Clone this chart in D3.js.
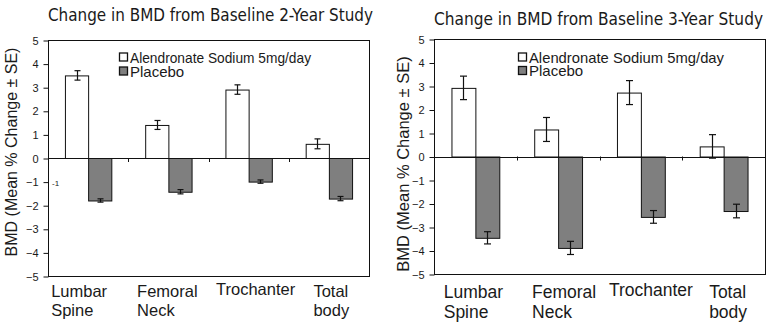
<!DOCTYPE html>
<html>
<head>
<meta charset="utf-8">
<script src="https://cdn.jsdelivr.net/npm/d3@7"></script>
<style>
  html, body { margin: 0; padding: 0; background: #fff; }
  svg { display: block; }
  text { fill: #1a1a1a; font-family: "Liberation Sans", Arial, sans-serif; }
  .title { font-family: "Liberation Sans Narrow", "DejaVu Sans Condensed", "Liberation Sans", sans-serif; }
</style>
</head>
<body>
<div id="chart"></div>
<script>
const kWidth = 771;
const kHeight = 329;

// categories and series
const categories = ["Lumbar Spine", "Femoral Neck", "Trochanter", "Total body"];
const categoryLines = [["Lumbar", "Spine"], ["Femoral", "Neck"], ["Trochanter"], ["Total", "body"]];
const seriesNames = ["Alendronate Sodium 5mg/day", "Placebo"];
const yTicks = [5, 4, 3, 2, 1, 0, -1, -2, -3, -4, -5];

// 2-year study: mean % change and SE
const alend2 = [3.5, 1.4, 2.9, 0.6];
const alend2Se = [0.2, 0.19, 0.2, 0.21];
const placebo2 = [-1.8, -1.43, -1.0, -1.72];
const placebo2Se = [0.07, 0.09, 0.07, 0.09];

// 3-year study
const alend3 = [2.92, 1.15, 2.72, 0.43];
const alend3Se = [0.5, 0.51, 0.51, 0.5];
const placebo3 = [-3.46, -3.89, -2.57, -2.32];
const placebo3Se = [0.26, 0.28, 0.27, 0.29];

const panels = [
  {
    title: "Change in BMD from Baseline 2-Year Study",
    titleX: 48, titleY: 20.5, titleW: 325,
    x0: 48, x1: 369, y0: 40, y1: 276,
    series: [alend2, placebo2], se: [alend2Se, placebo2Se],
    font: 16.5, yLabelX: 17, yLabelY: 152, yLabelSize: 16,
    legendX: 119, legendY: [62.5, 76.5], legendW: 192,
    catY: 296.5, catDx: [-9, -1, 7, 2],
    capW: 6, stray: true
  },
  {
    title: "Change in BMD from Baseline 3-Year Study",
    titleX: 434, titleY: 25, titleW: 329,
    x0: 434, x1: 765, y0: 39, y1: 274,
    series: [alend3, placebo3], se: [alend3Se, placebo3Se],
    font: 17.5, yLabelX: 409, yLabelY: 164, yLabelSize: 16.5,
    legendX: 518, legendY: [62.5, 76], legendW: 206,
    catY: 298, catDx: [-2, 6, 10, 4],
    capW: 7, stray: false
  }
];

const fills = ["#ffffff", "#7f7f7f"];

const svg = d3.select("#chart")
  .append("svg")
  .attr("width", kWidth)
  .attr("height", kHeight);

function drawPanel(p)
{
  const g = svg.append("g");

  const x = d3.scaleBand()
    .domain(categories)
    .range([p.x0, p.x1]);

  const xInner = d3.scaleBand()
    .domain(seriesNames)
    .range([0, x.bandwidth()])
    .paddingInner(0)
    .paddingOuter(0.73);

  const y = d3.scaleLinear()
    .domain([-5, 5])
    .range([p.y1, p.y0]);

  // title
  g.append("text")
    .attr("class", "title")
    .attr("x", p.titleX)
    .attr("y", p.titleY)
    .attr("textLength", p.titleW)
    .attr("lengthAdjust", "spacingAndGlyphs")
    .style("font-size", "17px")
    .text(p.title);

  // plot frame
  g.append("rect")
    .attr("x", p.x0 + 0.5)
    .attr("y", y(5) + 0.5)
    .attr("width", p.x1 - p.x0)
    .attr("height", y(-5) - y(5))
    .attr("fill", "none")
    .attr("stroke", "#111")
    .attr("stroke-width", 1);

  // y axis
  const yAxis = d3.axisLeft(y)
    .tickValues(yTicks)
    .tickSize(5)
    .tickSizeOuter(0)
    .tickPadding(5)
    .tickFormat(d3.format("d"));

  const ya = g.append("g")
    .attr("transform", `translate(${p.x0 + 0.5}, 0.5)`)
    .call(yAxis);
  ya.select(".domain").remove();
  ya.selectAll("line").attr("stroke", "#111");
  ya.selectAll("text")
    .style("font-family", "'Liberation Sans', Arial, sans-serif")
    .style("font-size", "11px")
    .attr("fill", "#1a1a1a");

  // y axis title
  g.append("text")
    .attr("transform", `translate(${p.yLabelX}, ${p.yLabelY}) rotate(-90)`)
    .attr("text-anchor", "middle")
    .style("font-size", `${p.yLabelSize}px`)
    .text("BMD (Mean % Change \u00b1 SE)");

  // bars
  seriesNames.forEach((s, si) => {
    g.selectAll(null)
      .data(categories)
      .enter()
      .append("rect")
      .attr("x", c => x(c) + xInner(s) + 0.5)
      .attr("y", (c, i) => Math.min(y(p.series[si][i]), y(0)) + 0.5)
      .attr("width", xInner.bandwidth())
      .attr("height", (c, i) => Math.abs(y(p.series[si][i]) - y(0)))
      .attr("fill", fills[si])
      .attr("stroke", "#111")
      .attr("stroke-width", 1);
  });

  // zero line
  g.append("line")
    .attr("x1", p.x0)
    .attr("x2", p.x1)
    .attr("y1", Math.round(y(0)) + 0.5)
    .attr("y2", Math.round(y(0)) + 0.5)
    .attr("stroke", "#111");

  // category ticks on the zero line
  g.selectAll(null)
    .data(categories.slice(1))
    .enter()
    .append("line")
    .attr("x1", c => Math.round(x(c)) + 0.5)
    .attr("x2", c => Math.round(x(c)) + 0.5)
    .attr("y1", y(0))
    .attr("y2", y(0) + 4)
    .attr("stroke", "#111");

  // error bars
  seriesNames.forEach((s, si) => {
    categories.forEach((c, i) => {
      const cx = Math.round(x(c) + xInner(s) + xInner.bandwidth() / 2) + 0.5;
      const v = p.series[si][i];
      const e = p.se[si][i];
      const eg = g.append("g").attr("stroke", "#111").attr("stroke-width", 1.2);
      eg.append("line")
        .attr("x1", cx).attr("x2", cx)
        .attr("y1", y(v + e)).attr("y2", y(v - e));
      [v + e, v - e].forEach(t => {
        eg.append("line")
          .attr("x1", cx - p.capW / 2).attr("x2", cx + p.capW / 2)
          .attr("y1", y(t)).attr("y2", y(t));
      });
    });
  });

  // category labels
  categories.forEach((c, i) => {
    const cx = x(c) + x.bandwidth() / 2 + p.catDx[i];
    const t = g.append("text")
      .attr("x", cx)
      .attr("y", p.catY - (categoryLines[i].length === 1 ? 2 : 0))
      .attr("text-anchor", "middle")
      .style("font-size", `${p.font}px`)
      .text(categoryLines[i][0]);
    // wrapped lines share the left edge of the first line
    if (categoryLines[i].length > 1) {
      const w = t.node().getComputedTextLength();
      t.attr("text-anchor", "start").attr("x", cx - w / 2);
      g.append("text")
        .attr("x", cx - w / 2)
        .attr("y", p.catY + 19.5)
        .style("font-size", `${p.font}px`)
        .text(categoryLines[i][1]);
    }
  });

  // legend
  seriesNames.forEach((s, si) => {
    g.append("rect")
      .attr("x", p.legendX + 0.5)
      .attr("y", p.legendY[si] - 9.5)
      .attr("width", 8)
      .attr("height", 8)
      .attr("fill", fills[si])
      .attr("stroke", "#111")
      .attr("stroke-width", 1.3);
    const lt = g.append("text")
      .attr("x", p.legendX + 11)
      .attr("y", p.legendY[si])
      .style("font-size", "15px")
      .text(s);
    if (si === 0) {
      lt.attr("textLength", p.legendW - 11)
        .attr("lengthAdjust", "spacingAndGlyphs");
    }
  });

  if (p.stray) {
    g.append("text")
      .attr("x", p.x0 + 4)
      .attr("y", y(-1.2))
      .style("font-size", "8px")
      .text("-1");
  }
}

panels.forEach(drawPanel);
</script>
</body>
</html>
